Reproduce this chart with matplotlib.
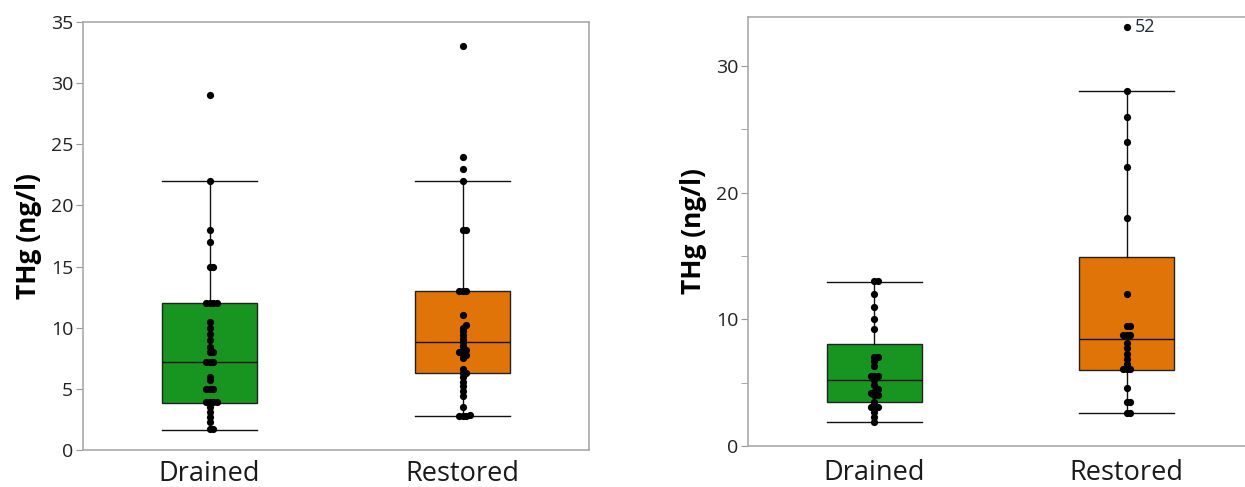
import matplotlib
matplotlib.use("Agg")
import matplotlib.pyplot as plt
import numpy as np

plt.rcParams['font.family'] = ['Open Sans', 'DejaVu Sans']

categories = ["Drained", "Restored"]

# Left panel data
left_drained = [29, 22, 18, 17, 15, 15, 12, 12, 12, 12, 10.5, 10, 9.5, 9, 8.4, 8, 8,
                7.2, 7.2, 7.2, 6, 5.7, 5, 5, 5, 3.9, 3.9, 3.9, 3.9, 3.5, 3.1, 2.7, 2.3, 1.7, 1.7]
left_restored = [33, 24, 23, 22, 18, 18, 13, 13, 13, 11, 10.2, 10, 9.7, 9.4, 9.1, 8.8, 8.5,
                 8.2, 8.2, 8, 7.8, 7.8, 7.5, 6.6, 6.3, 6.3, 6, 5.6, 5.2, 4.8, 4.4, 3.5, 2.9,
                 2.8, 2.8, 2.8]
left_q1 = [3.85, 6.3]
left_med = [7.2, 8.8]
left_q3 = [12.0, 13.0]
left_whislo = [1.65, 2.75]
left_whishi = [22.0, 22.0]

# Right panel data
right_drained = [13, 13, 12, 11, 10, 9.2, 7, 7, 6.7, 6.3, 5.5, 5.5, 5.5, 5.2, 4.8, 4.5,
                 4.3, 4.2, 4.0, 4.0, 3.5, 3.1, 3.1, 3.1, 2.7, 2.3, 1.9]
right_restored = [33.1, 28, 26, 24, 22, 18, 12, 9.5, 9.5, 8.8, 8.8, 8.8, 8.1, 7.7, 7.3,
                  6.9, 6.5, 6.1, 6.1, 6.1, 4.6, 3.5, 3.5, 2.6, 2.6]
right_q1 = [3.5, 6.0]
right_med = [5.2, 8.45]
right_q3 = [8.05, 14.9]
right_whislo = [1.9, 2.6]
right_whishi = [12.95, 28.0]
outlier_label = "52"

box_colors = ['#179520', '#e07408']
W, H = 1245, 487
fig = plt.figure(figsize=(W / 100, H / 100), dpi=100)

ax1 = fig.add_axes([83 / W, (H - 450) / H, 506 / W, 428 / H])
ax2 = fig.add_axes([748 / W, (H - 446) / H, 505 / W, 429 / H])


def swarm(ax, values, pos, ylim, d_px=7.0):
    bbox = ax.get_window_extent()
    ppy = bbox.height / (ylim[1] - ylim[0])
    ppx = bbox.width / 2.0
    placed = []
    xs, ys = [], []
    order = [0]
    for i in range(1, 30):
        order += [i, -i]
    for v in sorted(values):
        yp = v * ppy
        for o in order:
            xp = o * d_px * 0.5
            ok = True
            for (px, py) in placed:
                if (px - xp) ** 2 + (py - yp) ** 2 < (d_px * 0.5) ** 2:
                    ok = False
                    break
            if ok:
                placed.append((xp, yp))
                xs.append(pos + xp / ppx)
                ys.append(v)
                break
    ax.plot(xs, ys, 'o', color='black', markersize=5.2, zorder=5, markeredgewidth=0)


def panel(ax, groups, q1, med, q3, lo, hi, ylim, major, minor, xpad):
    ax.set_xlim(-0.5, 1.5)
    ax.set_ylim(*ylim)
    stats = []
    for i in range(2):
        stats.append(dict(q1=q1[i], med=med[i], q3=q3[i], whislo=lo[i], whishi=hi[i],
                          fliers=[], label=categories[i]))
    bp = ax.bxp(stats, positions=[0, 1], widths=0.375, capwidths=0.375, patch_artist=True,
                showfliers=False,
                boxprops=dict(linewidth=1.0, edgecolor='#222222'),
                medianprops=dict(color='#111111', linewidth=1.0),
                whiskerprops=dict(color='#111111', linewidth=1.0),
                capprops=dict(color='#111111', linewidth=1.0))
    for patch, c in zip(bp['boxes'], box_colors):
        patch.set_facecolor(c)
    for i, g in enumerate(groups):
        swarm(ax, g, i, ylim)
    ax.set_xticks([0, 1])
    ax.set_xticklabels(categories, fontsize=19.5, color='#1a1a1a')
    ax.tick_params(axis='x', length=0, pad=xpad)
    ax.set_yticks(major)
    ax.set_yticks(minor, minor=True)
    ax.tick_params(axis='y', which='both', length=5, color='#999999', labelsize=14,
                   labelcolor='#222222', pad=2)
    ax.set_ylabel("THg (ng/l)", fontsize=19, fontweight='bold', labelpad=6)
    for s in ax.spines.values():
        s.set_color('#aaaaaa')
        s.set_linewidth(1.2)


panel(ax1, [left_drained, left_restored], left_q1, left_med, left_q3, left_whislo, left_whishi,
      (0, 35), np.arange(0, 36, 5), [], 7)
panel(ax2, [right_drained, right_restored], right_q1, right_med, right_q3, right_whislo,
      right_whishi, (0, 33.86), [0, 10, 20, 30], [5, 15, 25], 9)
ax2.tick_params(axis='y', which='minor', labelleft=False)
ax2.annotate(outlier_label, xy=(1, right_restored[0]), xytext=(6, 0), textcoords='offset points',
             va='center', ha='left', fontsize=13, color='#1f2a40')

fig.savefig("out.png", dpi=100)
